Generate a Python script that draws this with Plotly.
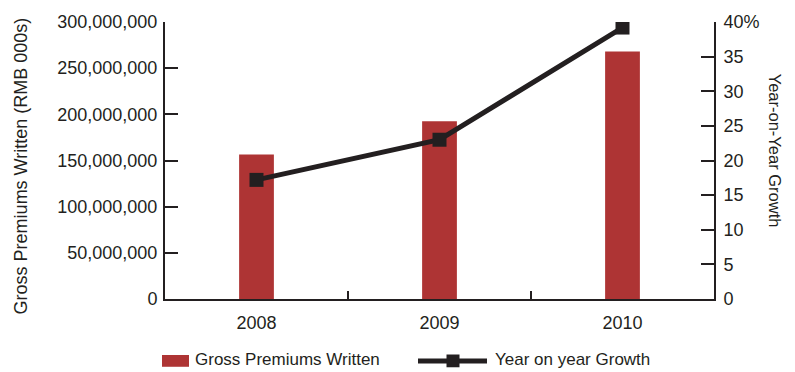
import plotly.graph_objects as go

years = ["2008", "2009", "2010"]
gross_premiums = [156500000, 192500000, 268000000]
yoy_growth = [17.2, 23.0, 39.2]

left_tickvals = [0, 50000000, 100000000, 150000000, 200000000, 250000000, 300000000]
left_ticktext = ["0", "50,000,000", "100,000,000", "150,000,000", "200,000,000", "250,000,000", "300,000,000"]
right_tickvals = [0, 5, 10, 15, 20, 25, 30, 35, 40]
right_ticktext = ["0", "5", "10", "15", "20", "25", "30", "35", "40%"]

RED = "#AE3434"
INK = "#231F20"
FONT = "Liberation Sans, Arial, sans-serif"

W, H = 795, 372
L, R, T, B = 165, 714, 17, 299


def px_x(x):
    return (x - L) / (R - L)


def px_y(y):
    return (B - y) / (B - T)


fig = go.Figure()
fig.add_trace(go.Bar(
    x=years, y=gross_premiums, name="Gross Premiums Written",
    marker=dict(color=RED, line=dict(width=0)), width=0.19,
    yaxis="y", showlegend=False,
))
fig.add_trace(go.Scatter(
    x=years, y=yoy_growth, name="Year on year Growth", mode="lines+markers",
    line=dict(color=INK, width=5),
    marker=dict(symbol="square", size=14, color=INK, line=dict(width=0)),
    yaxis="y2", showlegend=False,
))

axis_common = dict(
    showline=True, linecolor=INK, linewidth=2, showgrid=False, zeroline=False,
    ticks="inside", tickcolor=INK, tickwidth=2,
    tickfont=dict(family=FONT, size=18, color=INK),
)

fig.update_layout(
    width=W, height=H,
    margin=dict(l=L, r=W - R, t=T, b=H - B),
    paper_bgcolor="white", plot_bgcolor="white",
    showlegend=False,
    xaxis=dict(**axis_common, type="category", tickson="boundaries", ticklen=8,
               ticklabelstandoff=6),
    yaxis=dict(**axis_common, range=[0, 300000000], tickvals=left_tickvals,
               ticktext=left_ticktext, ticklen=13, ticklabelstandoff=2),
    yaxis2=dict(**axis_common, range=[0, 40], tickvals=right_tickvals,
                ticktext=right_ticktext, ticklen=13, overlaying="y", side="right",
                ticklabelstandoff=4),
    font=dict(family=FONT, size=18, color=INK),
)

# axis titles
fig.add_annotation(text="Gross Premiums Written (RMB 000s)", xref="paper", yref="paper",
                   x=px_x(21), y=px_y(164), textangle=-90, showarrow=False,
                   xanchor="center", yanchor="middle", font=dict(size=18, color=INK, family=FONT))
fig.add_annotation(text="Year-on-Year Growth", xref="paper", yref="paper",
                   x=px_x(775), y=px_y(148), textangle=90, showarrow=False,
                   xanchor="center", yanchor="middle", font=dict(size=16.5, color=INK, family=FONT))

# custom legend
LEG_Y = 362
fig.add_shape(type="rect", xref="paper", yref="paper",
              x0=px_x(162), x1=px_x(189), y0=px_y(LEG_Y - 6), y1=px_y(LEG_Y + 6),
              fillcolor=RED, line=dict(width=0))
fig.add_annotation(text="Gross Premiums Written", xref="paper", yref="paper",
                   x=px_x(193), y=px_y(LEG_Y - 1), showarrow=False, xanchor="left", yanchor="middle",
                   font=dict(size=17, color=INK, family=FONT))
fig.add_shape(type="line", xref="paper", yref="paper",
              x0=px_x(418), x1=px_x(487), y0=px_y(LEG_Y), y1=px_y(LEG_Y),
              line=dict(color=INK, width=5))
fig.add_shape(type="rect", xref="paper", yref="paper",
              x0=px_x(446.5), x1=px_x(459.5), y0=px_y(LEG_Y - 6.5), y1=px_y(LEG_Y + 6.5),
              fillcolor=INK, line=dict(width=0))
fig.add_annotation(text="Year on year Growth", xref="paper", yref="paper",
                   x=px_x(493), y=px_y(LEG_Y - 1), showarrow=False, xanchor="left", yanchor="middle",
                   font=dict(size=17, color=INK, family=FONT))

fig.write_html("out.html")
